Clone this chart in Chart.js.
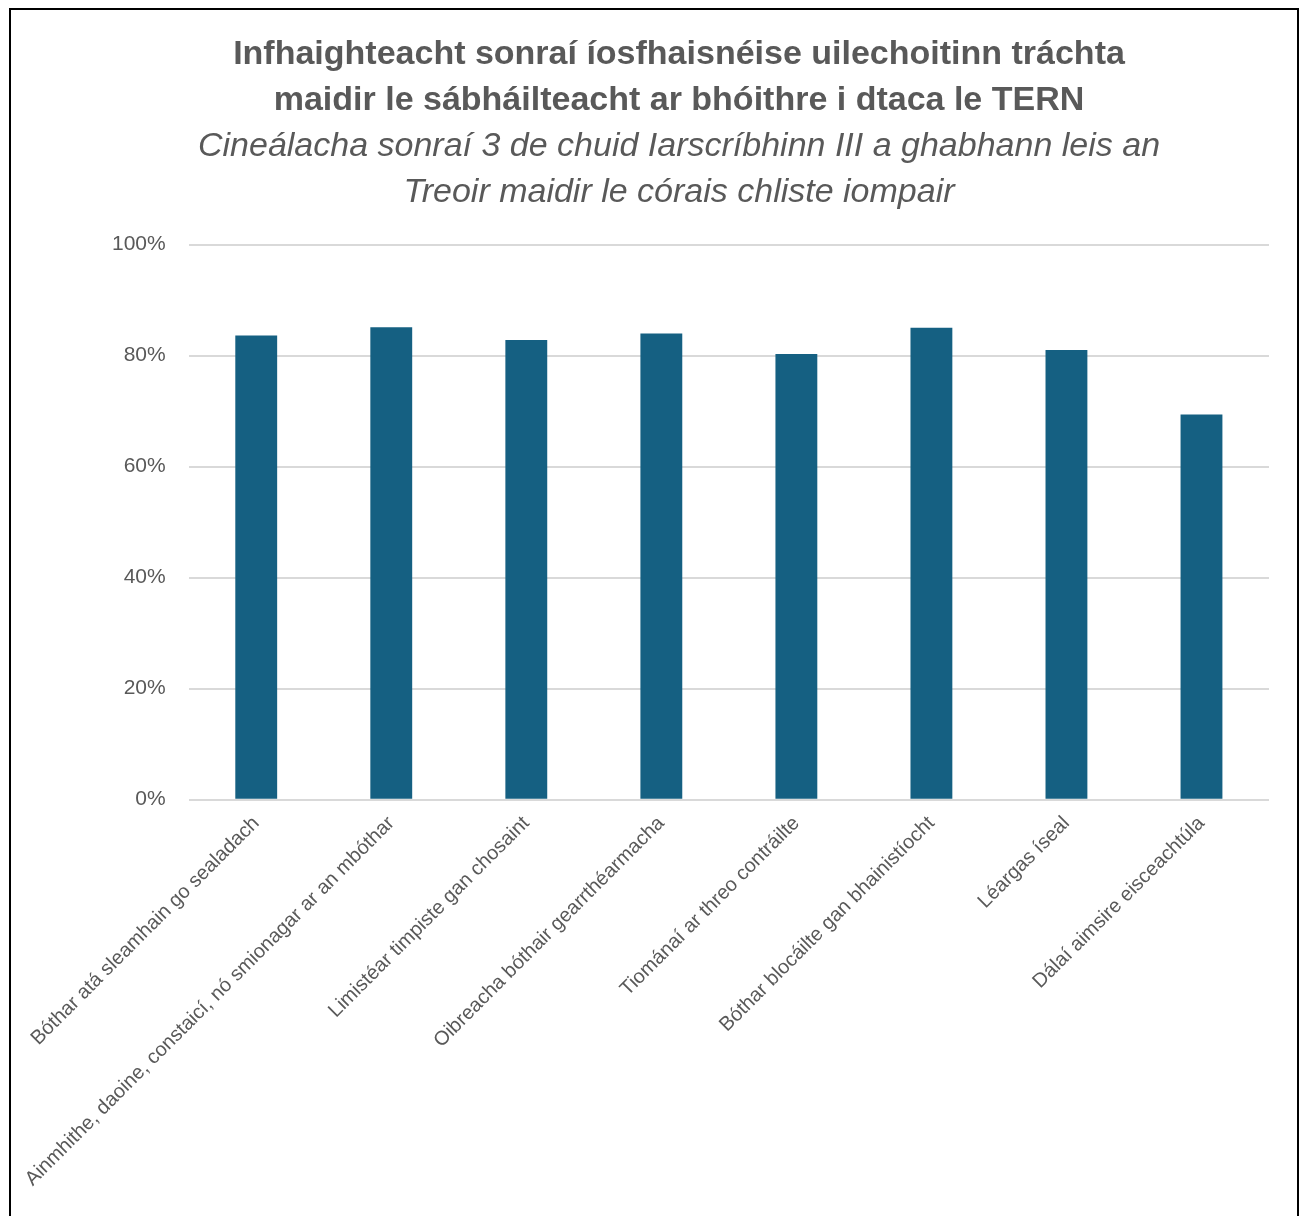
<!DOCTYPE html>
<html>
<head>
<meta charset="utf-8">
<script src="https://cdn.jsdelivr.net/npm/chart.js@4.4.1/dist/chart.umd.min.js"></script>
<style>
  body { margin: 0; background: #fff; overflow: hidden; }
  #frame {
    position: absolute; left: 9px; top: 8px;
    width: 1286px; height: 1240px;
    border: 2px solid #000; background: #fff;
  }
  #wrap { position: absolute; left: 0; top: 0; width: 1286px; height: 1193px; }
</style>
</head>
<body>
<div id="frame"><div id="wrap"><canvas id="barChart"></canvas></div></div>
<script>
// categories (x axis)
var labels = [
  "Bóthar atá sleamhain go sealadach",
  "Ainmhithe, daoine, constaicí, nó smionagar ar an mbóthar",
  "Limistéar timpiste gan chosaint",
  "Oibreacha bóthair gearrthéarmacha",
  "Tiománaí ar threo contráilte",
  "Bóthar blocáilte gan bhainistíocht",
  "Léargas íseal",
  "Dálaí aimsire eisceachtúla"
];
// share available, in percent
var values = [83.6, 85.1, 82.8, 84.0, 80.3, 85.0, 81.0, 69.4];
var titleLines = [
  "Infhaighteacht sonraí íosfhaisnéise uilechoitinn tráchta",
  "maidir le sábháilteacht ar bhóithre i dtaca le TERN"
];
var subtitleLines = [
  "Cineálacha sonraí 3 de chuid Iarscríbhinn III a ghabhann leis an",
  "Treoir maidir le córais chliste iompair"
];

var fontFam = "'Liberation Sans', Arial, sans-serif";

var ctx = document.getElementById("barChart").getContext("2d");
new Chart(ctx, {
  type: "bar",
  data: {
    labels: labels,
    datasets: [{
      data: values,
      backgroundColor: "#156082",
      borderWidth: 0,
      barPercentage: 0.62,
      categoryPercentage: 0.5
    }]
  },
  options: {
    responsive: true,
    maintainAspectRatio: false,
    animation: false,
    layout: { padding: { left: 78, right: 28, top: 14, bottom: 0 } },
    plugins: {
      legend: { display: false },
      tooltip: { enabled: false },
      title: {
        display: true,
        text: titleLines,
        color: "#595959",
        font: { family: fontFam, size: 34, weight: "bold", lineHeight: 1.35 },
        padding: { top: 8, bottom: 0 }
      },
      subtitle: {
        display: true,
        text: subtitleLines,
        color: "#595959",
        font: { family: fontFam, size: 34, style: "italic", lineHeight: 1.35 },
        padding: { top: 0, bottom: 29 }
      }
    },
    scales: {
      x: {
        grid: { display: false, drawTicks: false },
        border: { display: false },
        ticks: {
          color: "#595959",
          font: { family: fontFam, size: 20 },
          maxRotation: 45,
          minRotation: 45,
          autoSkip: false,
          padding: 12
        }
      },
      y: {
        min: 0,
        max: 100,
        grid: { color: "#d9d9d9", lineWidth: 2, drawTicks: false },
        border: { display: false },
        ticks: {
          stepSize: 20,
          color: "#595959",
          font: { family: fontFam, size: 21 },
          padding: 23,
          callback: function (v) { return v + "%"; }
        }
      }
    }
  }
});
</script>
</body>
</html>
